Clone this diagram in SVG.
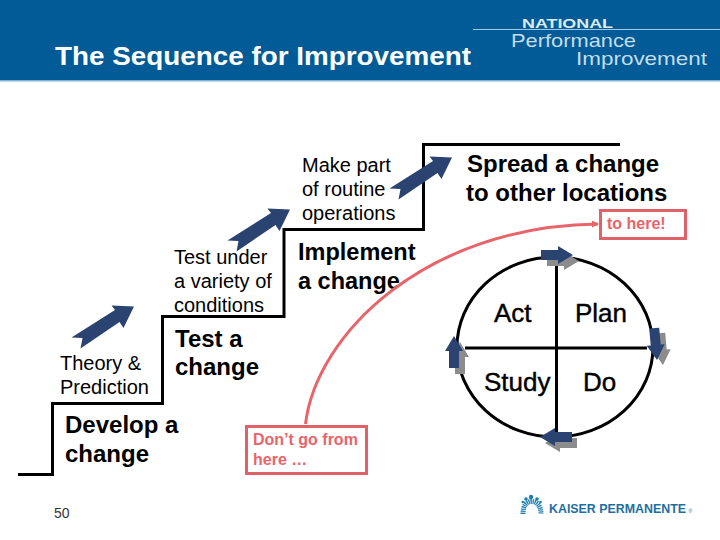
<svg xmlns="http://www.w3.org/2000/svg" width="720" height="540" viewBox="0 0 720 540">
<style>
text{font-family:"Liberation Sans",Arial,sans-serif;fill:#000}
.b{font-weight:bold;font-size:24px}
.n{font-size:20px}
.r{font-weight:bold;font-size:16px;fill:#e8646a}
.stair{fill:none;stroke:#000;stroke-width:3}
.redbox{fill:#fff;stroke:#e06268;stroke-width:3}
.big{fill:#2a4371}
.sh{fill:#8c8c8c}
.pd{font-size:26px;stroke:#000;stroke-width:.4}
</style>
<defs>
<polygon id="stepArrow" class="big" points="71.500,337.500 115,310 111.500,305.500 134,306.500 123.500,328 119.500,322 80.500,348.500 82.500,338"/>
<marker id="redHead" markerWidth="8" markerHeight="8" refX="6" refY="3.5" orient="auto" markerUnits="userSpaceOnUse"><path d="M0,0L7,3.500L0,7z" fill="#e8646a"/></marker>
<polygon id="tipG" class="sh" points="-32,-5 -15,-5 -15,-9 0,0 -15,9 -15,5 -32,5"/>
<polygon id="tipB" class="big" points="-32,-5 -15,-5 -15,-9 0,0 -15,9 -15,5 -32,5"/>
</defs>
<g id="header">
<rect width="720" height="80" fill="#005b96"/>
<rect y="80" width="720" height="1.500" fill="#7fb2d6"/>
<text x="55" y="65" font-size="26.500" font-weight="bold" style="fill:#fff" textLength="416" lengthAdjust="spacingAndGlyphs">The Sequence for Improvement</text>
</g>
<g id="logo-npi">
<rect x="473" y="29" width="247" height="1" fill="#9cc6e3"/>
<text x="522" y="28" font-size="13" font-weight="bold" style="fill:#dfeaf3" textLength="91" lengthAdjust="spacingAndGlyphs">NATIONAL</text>
<text x="511" y="47" font-size="19" style="fill:#c7dcec" textLength="125" lengthAdjust="spacingAndGlyphs">Performance</text>
<text x="576" y="65" font-size="19" style="fill:#c7dcec" textLength="131" lengthAdjust="spacingAndGlyphs">Improvement</text>
</g>
<g id="stairs"><path class="stair" d="M18 474.500H52.500V403.500H162.500V316.500H284V229.500H423.500V144.500H620"/></g>
<g id="node-develop"><text class="b" x="65" y="433">Develop a</text><text class="b" x="65" y="462">change</text></g>
<g id="node-theory"><text class="n" x="60" y="370">Theory &amp;</text><text class="n" x="60" y="394">Prediction</text></g>
<g id="node-test"><text class="b" x="175" y="347">Test a</text><text class="b" x="175" y="375">change</text></g>
<g id="node-variety"><text class="n" x="174" y="264">Test under</text><text class="n" x="174" y="288">a variety of</text><text class="n" x="174" y="312">conditions</text></g>
<g id="node-implement"><text class="b" style="font-size:23.500px" x="298" y="260">Implement</text><text class="b" style="font-size:23.500px" x="298" y="289">a change</text></g>
<g id="node-routine"><text class="n" x="302" y="172">Make part</text><text class="n" x="302" y="196">of routine</text><text class="n" x="302" y="220">operations</text></g>
<g id="node-spread"><text class="b" x="467" y="172">Spread a change</text><text class="b" x="466" y="201">to other locations</text></g>
<g id="node-from"><rect class="redbox" x="246.500" y="426.500" width="120" height="47"/><text class="r" x="253" y="445">Don’t go from</text><text class="r" x="253" y="465">here …</text></g>
<g id="node-to"><rect class="redbox" x="600.500" y="210.500" width="85" height="28"/><text class="r" x="607" y="229">to here!</text></g>
<g id="cycle">
<ellipse cx="555" cy="347" rx="98" ry="90" fill="none" stroke="#000" stroke-width="3"/>
<path d="M556.500 257V437M465 348H647" fill="none" stroke="#000" stroke-width="3"/>
</g>
<g id="node-pdsa">
<text class="pd" x="494" y="322">Act</text><text class="pd" x="575" y="322">Plan</text>
<text class="pd" x="484" y="391">Study</text><text class="pd" x="583" y="391">Do</text>
</g>
<g id="connectors">
<use href="#stepArrow"/>
<use href="#stepArrow" x="156" y="-97"/>
<use href="#stepArrow" x="318" y="-149"/>
<path d="M305.500 424C316 335 425 226 598 224" fill="none" stroke="#e8646a" stroke-width="3" marker-end="url(#redHead)"/>
<use href="#tipG" transform="translate(579,261)"/><use href="#tipB" transform="translate(573,255)"/>
<use href="#tipG" transform="translate(663,365) rotate(85)"/><use href="#tipB" transform="translate(657,360) rotate(85)"/>
<use href="#tipG" transform="translate(545,443) rotate(180)"/><use href="#tipB" transform="translate(540,437) rotate(180)"/>
<use href="#tipG" transform="translate(460,342) rotate(-90)"/><use href="#tipB" transform="translate(454,336) rotate(-90)"/>
</g>
<text id="page" x="54" y="518" font-size="14" style="fill:#333">50</text>
<g id="logo-kp" fill="#1d7eb2">
<circle cx="531" cy="497" r="2.200"/><circle cx="526" cy="499" r="1.800"/><circle cx="537" cy="499" r="1.800"/>
<circle cx="522.800" cy="502" r="1.300"/><circle cx="540.500" cy="502" r="1.300"/>
<path d="M523 514C523 506 526 501.500 531.500 501.500C537 501.500 541 506 541 514" fill="none" stroke="#1d7eb2" stroke-width="5" stroke-dasharray="1.300 .7"/>
<text x="549" y="513" font-size="12.400" font-weight="bold" style="fill:#1d6f9f">KAISER PERMANENTE</text>
<text x="688.500" y="513" font-size="5" style="fill:#1d6f9f">®</text>
</g>
</svg>
